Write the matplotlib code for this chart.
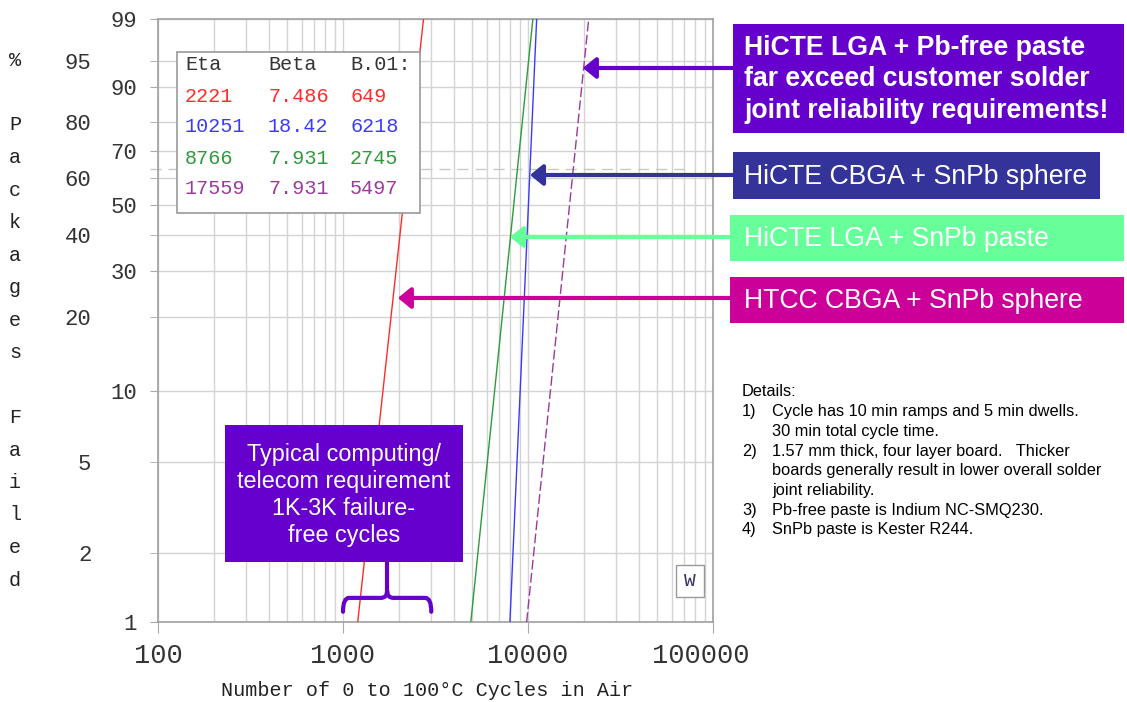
import numpy as np
import matplotlib.pyplot as plt
import matplotlib.transforms as mtransforms
from matplotlib.patches import Rectangle, PathPatch
from matplotlib.path import Path
from matplotlib.ticker import FixedLocator, NullFormatter, LogLocator

# Weibull fits listed in the table
eta = [2221, 10251, 8766, 17559]
beta = [7.486, 18.42, 7.931, 7.931]
b01 = [649, 6218, 2745, 5497]
line_colors = ['#ff2a2a', '#3a3aff', '#2e9a3a', '#9a3a9a']
line_styles = ['-', '-', '-', (0, (7, 2.5))]

fit_range = [1, 99]          # % failed span of the fitted lines
pct_major = [1, 10, 30, 50, 70, 90, 99]
pct_minor = [2, 5, 20, 40, 60, 80, 95]
x_ticks = [100, 1000, 10000, 100000]
req_range = [1000, 3000]     # typical requirement, cycles

callout_text = ["HiCTE LGA + Pb-free paste\nfar exceed customer solder\njoint reliability requirements!",
                "HiCTE CBGA + SnPb sphere",
                "HiCTE LGA + SnPb paste",
                "HTCC CBGA + SnPb sphere"]
callout_color = ['#6600cc', '#333399', '#66ff99', '#cc0099']
callout_target = [19800, 10250, 8000, 1980]   # cycles at arrow tip

details = ["Details:",
           ("1)", "Cycle has 10 min ramps and 5 min dwells."),
           ("", "30 min total cycle time."),
           ("2)", "1.57 mm thick, four layer board.   Thicker"),
           ("", "boards generally result in lower overall solder"),
           ("", "joint reliability."),
           ("3)", "Pb-free paste is Indium NC-SMQ230."),
           ("4)", "SnPb paste is Kester R244.")]

W, H = 1127, 702
MONO = 'Liberation Mono'
SANS = 'Liberation Sans'


def fx(x):
    return x / W


def fy(y):
    return 1 - y / H


def fwd(p):
    p = np.clip(np.asarray(p, dtype=float), 1e-6, 100 - 1e-6)
    return np.log(-np.log(1 - p / 100))


def inv(y):
    return 100 * (1 - np.exp(-np.exp(np.asarray(y, dtype=float))))


fig = plt.figure(figsize=(W / 100, H / 100), dpi=100)
ax = fig.add_axes([fx(158), fy(622), fx(713) - fx(158), fy(19) - fy(622)])
ax.set_xscale('log')
ax.set_yscale('function', functions=(fwd, inv))
ax.set_xlim(100, 100000)
ax.set_ylim(1, 99)

# ticks and grid
ax.yaxis.set_major_locator(FixedLocator(pct_major))
ax.yaxis.set_minor_locator(FixedLocator(pct_minor))
ax.set_yticklabels([str(v) for v in pct_major], fontsize=16, family=MONO, color='#333333')
ax.set_yticklabels([str(v) for v in pct_minor], minor=True, fontsize=16, family=MONO, color='#333333')
ax.tick_params(axis='y', which='major', length=6, color='#aaaaaa', pad=9)
ax.tick_params(axis='y', which='minor', length=6, color='#aaaaaa', pad=42)

ax.xaxis.set_major_locator(FixedLocator(x_ticks))
ax.xaxis.set_minor_locator(LogLocator(base=10, subs=range(2, 10)))
ax.xaxis.set_minor_formatter(NullFormatter())
ax.set_xticklabels([str(v) for v in x_ticks], fontsize=19.5, family=MONO, color='#333333')
ax.tick_params(axis='x', which='major', length=8, color='#aaaaaa', pad=7)
ax.tick_params(axis='x', which='minor', length=0)
last = ax.get_xticklabels()[-1]
last.set_transform(last.get_transform() + mtransforms.ScaledTranslation(-12 / 100, 0, fig.dpi_scale_trans))

ax.grid(True, which='both', color='#d4d4d4', lw=1)
ax.set_axisbelow(True)
for s in ax.spines.values():
    s.set_color('#a0a0a0')
    s.set_linewidth(1.2)

# 63.2 % characteristic life line
trans_ay = mtransforms.blended_transform_factory(ax.transAxes, ax.transData)
ax.plot([-0.015, 0.96], [63.2, 63.2], transform=trans_ay, color='#c8c8c8',
        lw=1, ls=(0, (8, 5)), clip_on=False, zorder=1.5)

# Weibull lines
for e, b, c, ls in zip(eta, beta, line_colors, line_styles):
    p = np.array(fit_range, dtype=float)
    x = e * (-np.log(1 - p / 100)) ** (1 / b)
    ax.plot(x, p, color=c, ls=ls, lw=1, zorder=3)

# parameter table
fig.patches.append(Rectangle((fx(177), fy(213)), fx(420) - fx(177), fy(52) - fy(213),
                             transform=fig.transFigure, fc='white', ec='#999999', lw=1.2, zorder=4))
col_x = [185, 268, 350]
for cx, h in zip(col_x, ['Eta', 'Beta', 'B.01:']):
    fig.text(fx(cx), fy(65), h, family=MONO, fontsize=14.5, color='#333333', va='center', zorder=5)
for i, (e, b, v, c) in enumerate(zip(eta, beta, b01, line_colors)):
    y = 96 + 31 * i
    for cx, s in zip(col_x, [str(e), f'{b:g}', str(v)]):
        fig.text(fx(cx), fy(y), s, family=MONO, fontsize=14.5, color=c, va='center', zorder=5)

# W marker
fig.text(fx(690), fy(581), 'W', family=MONO, fontsize=14, color='#333366', ha='center', va='center',
         bbox=dict(boxstyle='square,pad=0.4', fc='white', ec='#999999', lw=1))

# axis labels
fig.text(fx(427), fy(690), 'Number of 0 to 100°C Cycles in Air', family=MONO, fontsize=14.5,
         color='#222222', ha='center', va='center')
for i, ch in enumerate('% Packages Failed'):
    if ch != ' ':
        fig.text(fx(15), fy(60 + 32.5 * i), ch, family=MONO, fontsize=14.5, color='#222222',
                 ha='center', va='center')

# callout boxes with arrows
boxes = [(733, 24, 1124, 133), (733, 152, 1100, 199), (730, 215, 1124, 261), (730, 277, 1124, 323)]
arrow_y = [68, 175, 237, 298]
for i, (txt, col, tx) in enumerate(zip(callout_text, callout_color, callout_target)):
    x0, y0, x1, y1 = boxes[i]
    fig.patches.append(Rectangle((fx(x0), fy(y1)), fx(x1) - fx(x0), fy(y0) - fy(y1),
                                 transform=fig.transFigure, fc=col, ec='none', zorder=2))
    fig.text(fx(744), fy((y0 + y1) / 2 + 1), txt, color='white', family=SANS, fontsize=19.2,
             fontweight='bold' if i == 0 else 'normal', va='center', ha='left', linespacing=1.28)
    ax.annotate('', xy=(tx, fy(arrow_y[i])), xycoords=('data', 'figure fraction'),
                xytext=(fx(x0), fy(arrow_y[i])), textcoords='figure fraction',
                arrowprops=dict(arrowstyle='-|>,head_length=0.55,head_width=0.45', lw=3,
                                color=col, shrinkA=0, shrinkB=0, mutation_scale=14),
                annotation_clip=False, zorder=6)

# requirement box and brace
fig.patches.append(Rectangle((fx(225), fy(562)), fx(463) - fx(225), fy(425) - fy(562),
                             transform=fig.transFigure, fc='#6600cc', ec='none', zorder=2))
fig.text(fx(344), fy(495), 'Typical computing/\ntelecom requirement\n1K-3K failure-\nfree cycles',
         color='white', family=SANS, fontsize=16.8, ha='center', va='center', linespacing=1.24)

trans_xa = mtransforms.blended_transform_factory(ax.transData, ax.transAxes)
a, b_ = req_range
m = np.sqrt(a * b_)
k = 1.08
yb, yt, yc, ytop = 0.017, 0.040, 0.052, 0.099
verts = [(a, yb), (a, yt), (a * k, yt),
         (m / k, yt), (m, yt), (m, yc),
         (m, yt), (m * k, yt),
         (b_ / k, yt), (b_, yt), (b_, yb)]
codes = [Path.MOVETO, Path.CURVE3, Path.CURVE3,
         Path.LINETO, Path.CURVE3, Path.CURVE3,
         Path.CURVE3, Path.CURVE3,
         Path.LINETO, Path.CURVE3, Path.CURVE3]
ax.add_patch(PathPatch(Path(verts, codes), transform=trans_xa, fc='none', ec='#6600cc',
                       lw=3, clip_on=False, zorder=6, capstyle='round'))
ax.plot([m, m], [yc, ytop], transform=trans_xa, color='#6600cc', lw=3, clip_on=False, zorder=6)

# details notes
for i, d in enumerate(details):
    y = fy(392 + 19.7 * i)
    if isinstance(d, str):
        fig.text(fx(742), y, d, family=SANS, fontsize=11.8, color='black', va='center')
    else:
        fig.text(fx(742), y, d[0], family=SANS, fontsize=11.8, color='black', va='center')
        fig.text(fx(772), y, d[1], family=SANS, fontsize=11.8, color='black', va='center')

fig.savefig('out.png', dpi=100)
